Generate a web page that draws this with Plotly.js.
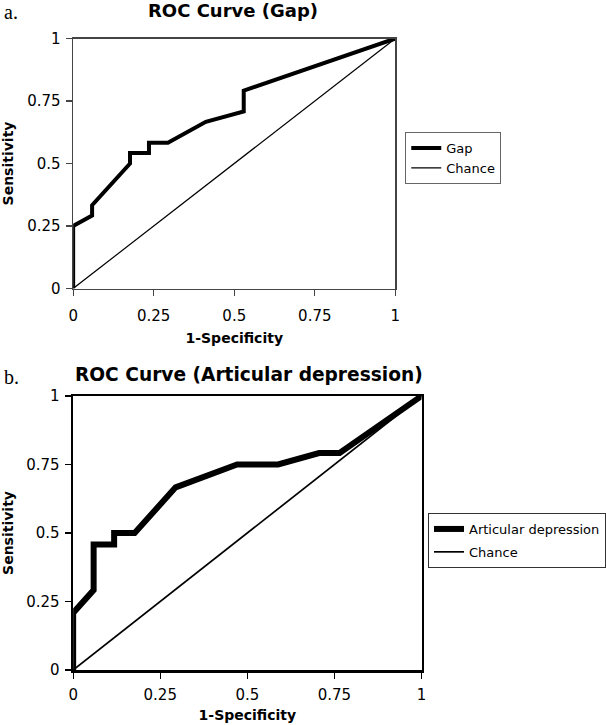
<!DOCTYPE html>
<html>
<head>
<meta charset="utf-8">
<script src="https://cdn.plot.ly/plotly-3.0.1.min.js"></script>
<style>html,body{margin:0;padding:0;background:#fff;}#chart{width:606px;height:725px;}</style>
</head>
<body>
<div id="chart"></div>
<script>
// Panel a: Gap
const gapX = [0, 0, 0.0588, 0.0588, 0.1765, 0.1765, 0.2353, 0.2353, 0.2941, 0.4118, 0.5294, 0.5294, 1];
const gapY = [0, 0.25, 0.2917, 0.3333, 0.5, 0.5417, 0.5417, 0.5833, 0.5833, 0.6667, 0.7083, 0.7917, 1];
const chanceAX = [0, 0.118, 0.294, 0.412, 0.529, 0.647, 1];
const chanceAY = [0, 0.118, 0.294, 0.412, 0.529, 0.647, 1];
// Panel b: Articular depression
const artX = [0, 0, 0.0588, 0.0588, 0.1176, 0.1176, 0.1765, 0.2941, 0.4706, 0.5882, 0.7059, 0.7647, 1];
const artY = [0, 0.2083, 0.2917, 0.4583, 0.4583, 0.5, 0.5, 0.6667, 0.75, 0.75, 0.7917, 0.7917, 1];
const chanceBX = [0, 0.118, 0.294, 0.471, 0.588, 0.765, 1];
const chanceBY = [0, 0.118, 0.294, 0.471, 0.588, 0.765, 1];

const tickVals = [0, 0.25, 0.5, 0.75, 1];
const tickText = ["0", "0.25", "0.5", "0.75", "1"];

const W = 606, H = 725;
const px = v => v / W;
const py = v => (H - v) / H;

const FONT = "DejaVu Sans, Liberation Sans, Arial, sans-serif";
const BOLD = "DejaVu Sans, Arial, sans-serif";

const traces = [
  {x: gapX, y: gapY, name: "Gap", mode: "lines", line: {color: "#000", width: 4}, xaxis: "x", yaxis: "y", legend: "legend"},
  {x: chanceAX, y: chanceAY, name: "Chance", mode: "lines", line: {color: "#000", width: 1.2}, xaxis: "x", yaxis: "y", legend: "legend"},
  {x: artX, y: artY, name: "Articular depression", mode: "lines", line: {color: "#000", width: 6}, xaxis: "x2", yaxis: "y2", legend: "legend2", legendgroup: "b1"},
  {x: chanceBX, y: chanceBY, name: "Chance", mode: "lines", line: {color: "#000", width: 1.7}, xaxis: "x2", yaxis: "y2", legend: "legend2", legendgroup: "b2"}
];

function axis(domain, lw, lc, anchor, titleText, standoff, labelStandoff) {
  return {
    domain: domain, range: [0, 1], anchor: anchor,
    tickvals: tickVals, ticktext: tickText,
    ticks: "outside", ticklen: 6, tickwidth: 1.2, tickcolor: lc,
    ticklabelstandoff: labelStandoff,
    showline: true, linecolor: lc, linewidth: lw, mirror: true,
    showgrid: false, zeroline: false,
    tickfont: {family: FONT, size: 15, color: "#000"},
    title: {text: titleText, font: {family: BOLD, size: 14, color: "#000"}, standoff: standoff},
    fixedrange: true
  };
}

const layout = {
  width: W, height: H,
  margin: {l: 0, r: 0, t: 0, b: 0},
  paper_bgcolor: "#fff", plot_bgcolor: "#fff",
  showlegend: true,
  xaxis: axis([px(74), px(400)], 1.5, "#444", "y", "<b>1-Specificity</b>", 9, 7),
  yaxis: axis([py(288.5), py(38.5)], 1.5, "#444", "x", "<b>Sensitivity</b>", 10, 2),
  xaxis2: axis([px(74), px(426.5)], 2.5, "#000", "y2", "<b>1-Specificity</b>", 8, 3),
  yaxis2: axis([py(670), py(396)], 2.5, "#000", "x2", "<b>Sensitivity</b>", 10, 2),
  legend: {
    x: px(410), y: py(132), xanchor: "left", yanchor: "top",
    bordercolor: "#666", borderwidth: 1, bgcolor: "#fff",
    font: {family: FONT, size: 13, color: "#000"}
  },
  legend2: {
    x: px(433), y: py(513), xanchor: "left", yanchor: "top",
    bordercolor: "#333", borderwidth: 1, bgcolor: "#fff",
    traceorder: "grouped", tracegroupgap: 3,
    font: {family: FONT, size: 13, color: "#000"}
  },
  annotations: [
    {text: "<b>ROC Curve (Gap)</b>", x: px(236), y: py(10), xref: "paper", yref: "paper", xanchor: "center", yanchor: "middle", showarrow: false, font: {family: BOLD, size: 18, color: "#000"}},
    {text: "<b>ROC Curve (Articular depression)</b>", x: px(252), y: py(375), xref: "paper", yref: "paper", xanchor: "center", yanchor: "middle", showarrow: false, font: {family: BOLD, size: 18.6, color: "#000"}},
    {text: "a.", x: px(2), y: py(12), xref: "paper", yref: "paper", xanchor: "left", yanchor: "middle", showarrow: false, font: {family: "Liberation Serif, DejaVu Serif, serif", size: 20, color: "#000"}},
    {text: "b.", x: px(2), y: py(377), xref: "paper", yref: "paper", xanchor: "left", yanchor: "middle", showarrow: false, font: {family: "Liberation Serif, DejaVu Serif, serif", size: 20, color: "#000"}}
  ]
};

Plotly.newPlot("chart", traces, layout, {displayModeBar: false, staticPlot: true});
</script>
</body>
</html>
